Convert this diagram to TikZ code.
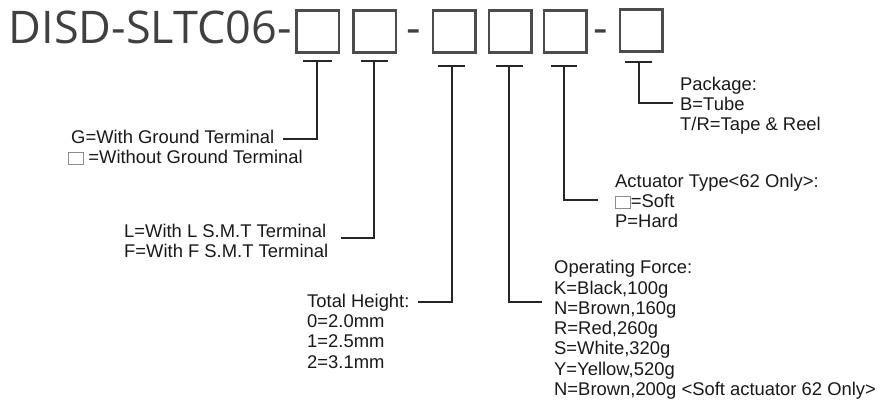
\documentclass[tikz,border=0pt]{standalone}
\usepackage{fontspec}
\setmainfont{Liberation Sans}
\newfontfamily\titlefont{Open Sans}
\newcommand{\blankbox}{\raisebox{-1pt}{{\color{black!45}\setlength{\fboxrule}{0.6pt}\setlength{\fboxsep}{0pt}\fbox{\rule{0pt}{11.5pt}\hspace{14.5pt}}}}}
\tikzset{
  conn/.style={line width=1.1pt, draw=black!85},
  bigbox/.style={draw=black!70, line width=2.5pt, minimum width=42.5pt, minimum height=42pt, inner sep=0pt},
  lbl/.style={anchor=base west, inner sep=0pt, font=\fontsize{18.4}{20.3}\selectfont, text=black!90},
  titletext/.style={anchor=base west, inner sep=0pt, font=\titlefont\fontsize{45}{50}\selectfont, text=black!75},
  dashtext/.style={anchor=base, inner sep=0pt, font=\titlefont\fontsize{45}{50}\selectfont, text=black!75}
}
\begin{document}
\begin{tikzpicture}[x=1pt,y=-1pt]
\useasboundingbox (0,0) rectangle (880,408);
% title and code boxes
\node[titletext] (title) at (8.5,43) {DISD-SLTC06-};
\node[bigbox] (b1) at (317.5,31.5) {};
\node[bigbox] (b2) at (374.5,31.5) {};
\node[dashtext] (d1) at (414,43) {-};
\node[bigbox] (b3) at (454,31.5) {};
\node[bigbox] (b4) at (510,31.5) {};
\node[bigbox] (b5) at (565,31.5) {};
\node[dashtext] (d2) at (601,43) {-};
\node[bigbox] (b6) at (641,30.5) {};
% connector points
\coordinate (t1a) at (303,61); \coordinate (t1b) at (332,61); \coordinate (t1) at (317,61); \coordinate (e1) at (283,139);
\coordinate (t2a) at (361,61); \coordinate (t2b) at (388,61); \coordinate (t2) at (374,61); \coordinate (e2) at (341,238);
\coordinate (t3a) at (438,66); \coordinate (t3b) at (465,66); \coordinate (t3) at (452,66); \coordinate (e3) at (418,302);
\coordinate (t4a) at (496,66); \coordinate (t4b) at (523,66); \coordinate (t4) at (509,66); \coordinate (e4) at (542,302);
\coordinate (t5a) at (551,66); \coordinate (t5b) at (577,66); \coordinate (t5) at (564,66); \coordinate (e5) at (598,200);
\coordinate (t6a) at (625,62); \coordinate (t6b) at (652,62); \coordinate (t6) at (639,62); \coordinate (e6) at (673,103);
\foreach \i in {1,...,6} {
  \draw[conn] (t\i a) -- (t\i b);
  \draw[conn] (t\i) |- (e\i);
}
% labels (multi-line nodes: base anchor is the last line's baseline)
\node[lbl] (g1) at (71,143) {G=With Ground Terminal};
\node[lbl] (g2) at (68,163) {\blankbox\hspace{4.5pt}=Without Ground Terminal};
\node[lbl, align=left] (lf) at (124,257.5) {L=With L S.M.T Terminal\\F=With F S.M.T Terminal};
\node[lbl, align=left] (th) at (307,368) {Total Height:\\0=2.0mm\\1=2.5mm\\2=3.1mm};
\node[lbl, align=left] (of) at (554,395.5) {Operating Force:\\K=Black,100g\\N=Brown,160g\\R=Red,260g\\S=White,320g\\Y=Yellow,520g\\N=Brown,200g <Soft actuator 62 Only>};
\node[lbl, align=left] (at) at (615,227.6) {Actuator Type<62 Only>:\\\blankbox=Soft\\P=Hard};
\node[lbl, align=left] (pk) at (680,130.6) {Package:\\B=Tube\\T/R=Tape \& Reel};
\end{tikzpicture}
\end{document}
